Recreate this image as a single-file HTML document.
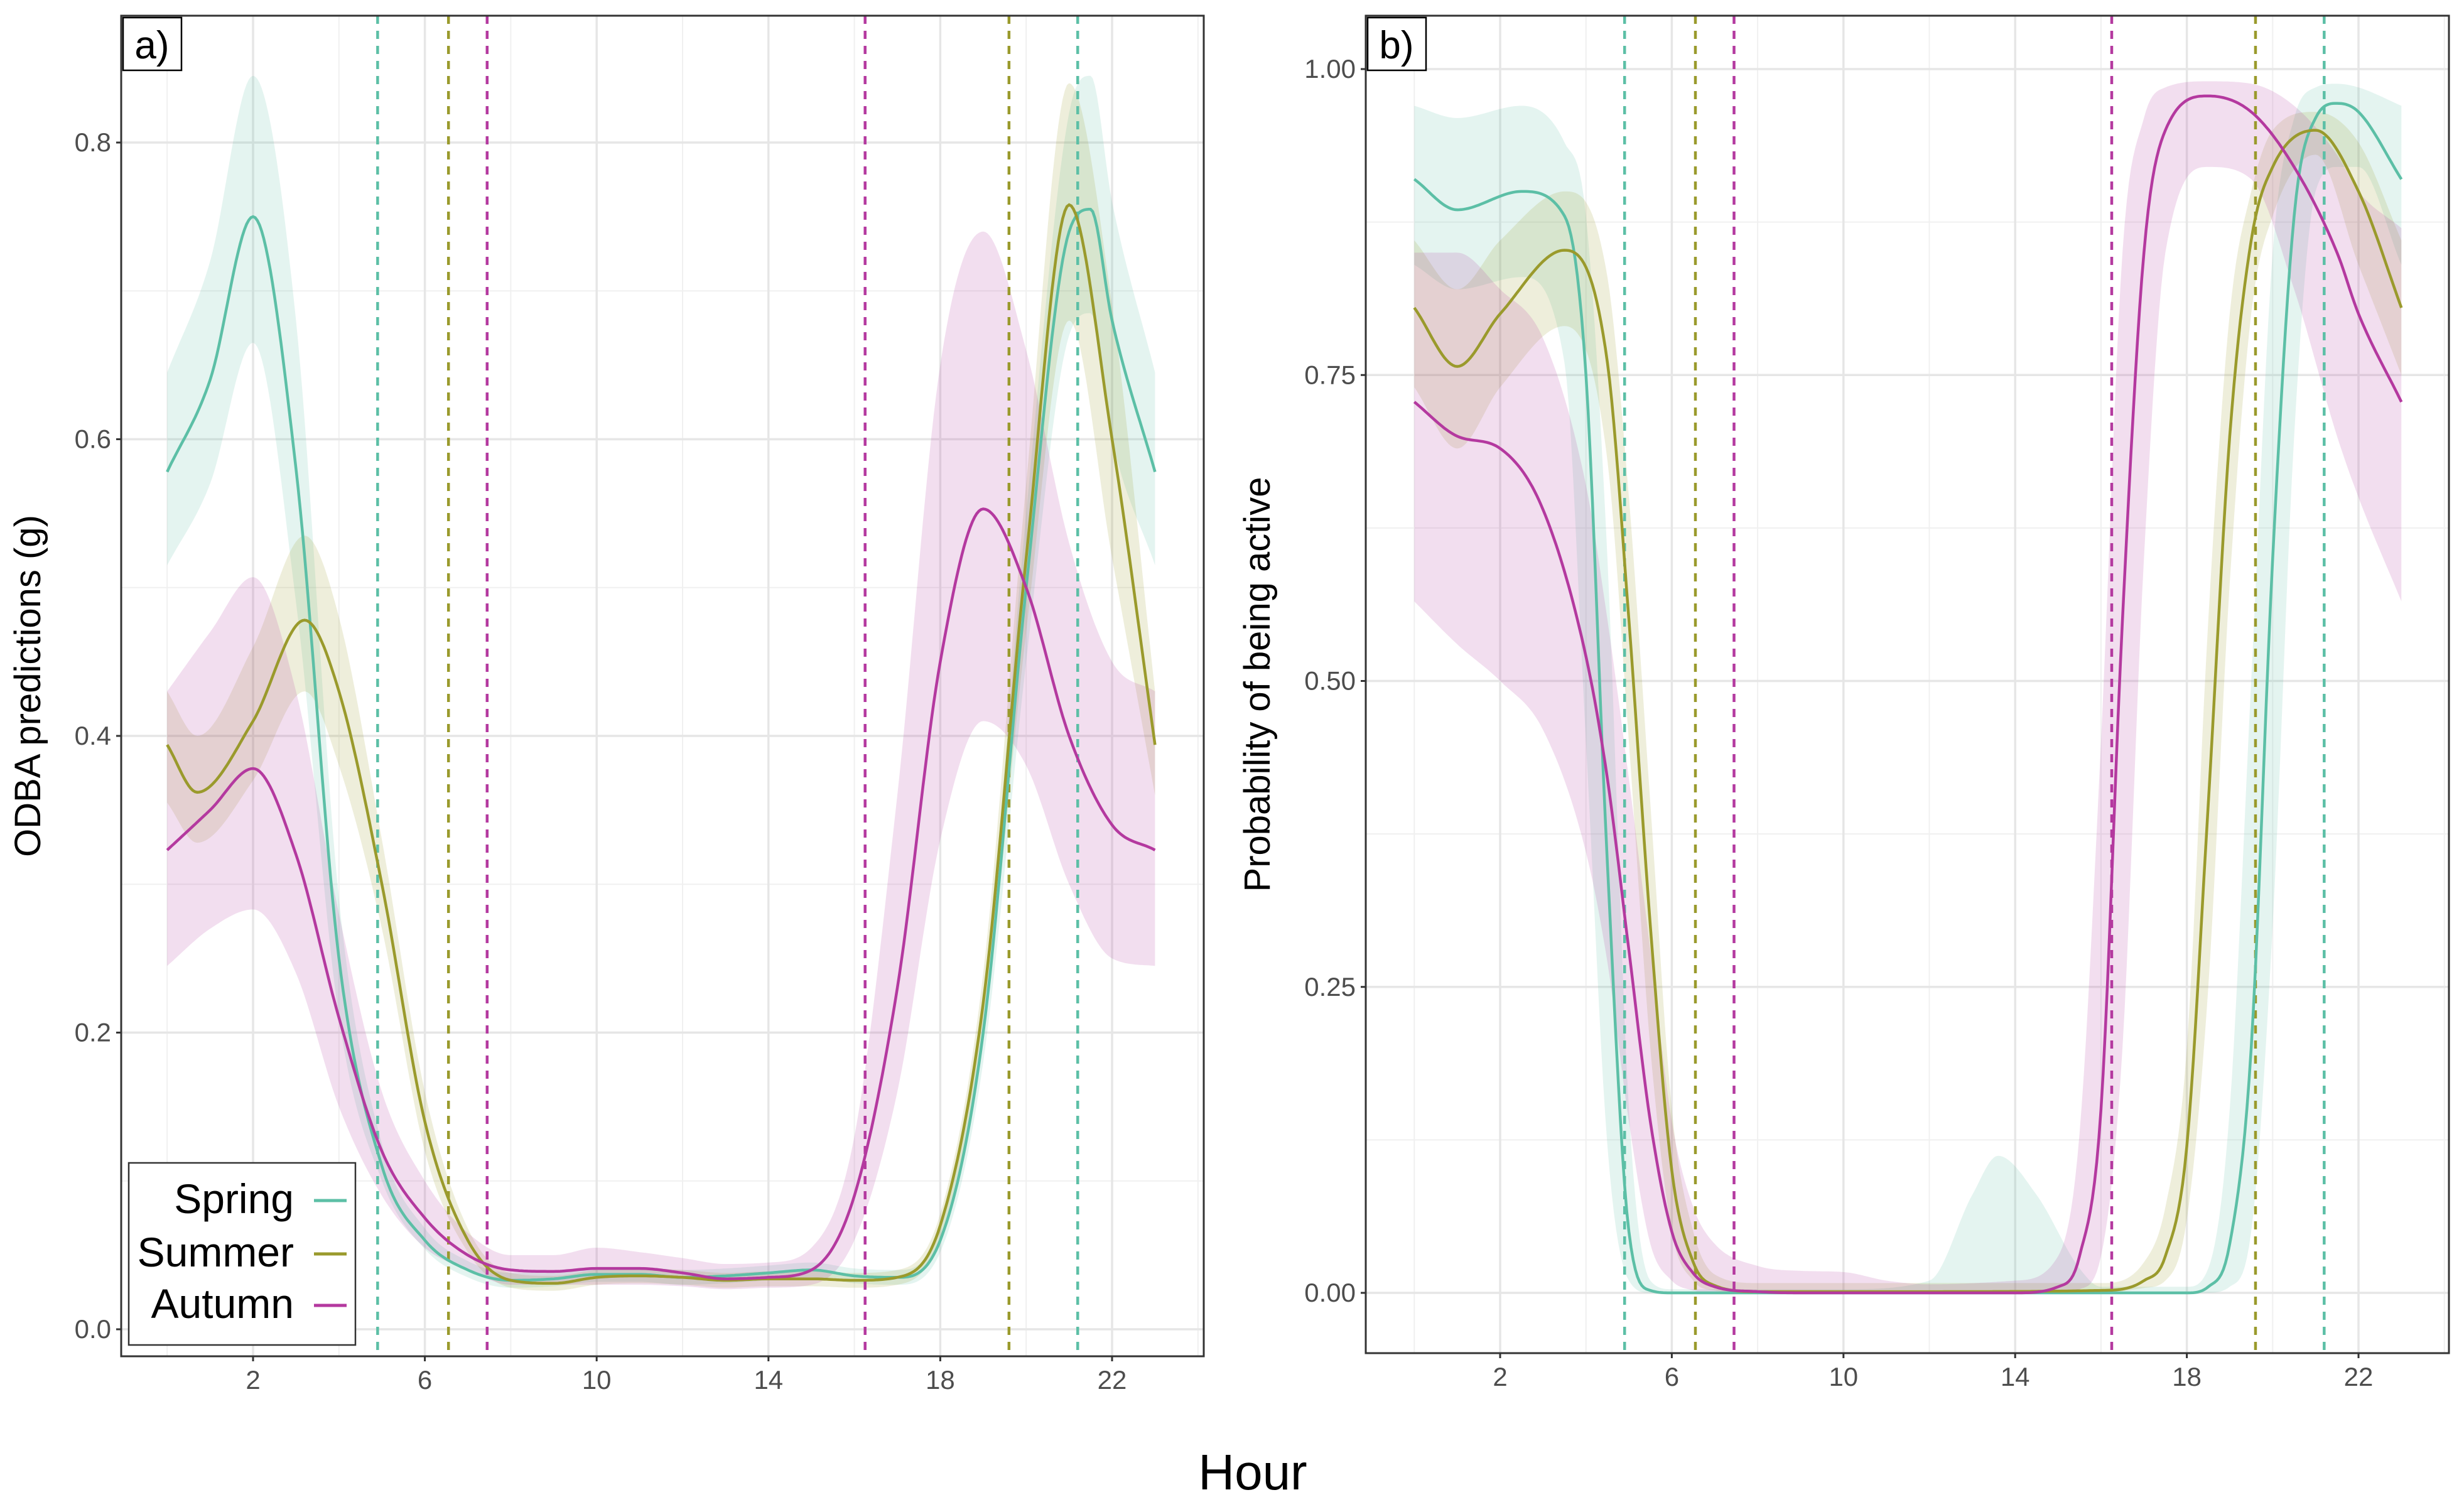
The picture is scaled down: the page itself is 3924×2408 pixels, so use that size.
<!DOCTYPE html>
<html><head><meta charset="utf-8"><style>
html,body{margin:0;padding:0;background:#fff;}
svg{display:block;font-family:"Liberation Sans",Arial,sans-serif;}
</style></head><body>
<svg id="chart" width="3924" height="2408" viewBox="0 0 3924 2408" xmlns="http://www.w3.org/2000/svg">
<rect width="3924" height="2408" fill="#fff"/>
<g id="pa"></g>
<g id="pb"></g>
<text x="1995" y="2372" font-size="80" text-anchor="middle" fill="#000">Hour</text>
</svg>
<script>
// ---- data ----
const seasons = ["Spring","Summer","Autumn"];
const seasonColors = ["#5cbfa6","#9a9a2c","#b4399f"];
const sunriseA = [4.9, 6.55, 7.45];
const sunsetA = [21.2, 19.6, 16.25];
const ticksXLabels = [2,6,10,14,18,22];
const ticksYa = [0,0.2,0.4,0.6,0.8];
const ticksYb = [0,0.25,0.5,0.75,1.0];

// Panel a: ODBA
const aSpringH = [0,1,2,3,4,5,6,7,8,9,10,11,12,13,14,15,16,17,18,19,20,21,21.5,22,23];
const aSpringM = [0.578,0.64,0.75,0.58,0.25,0.11,0.06,0.04,0.033,0.034,0.037,0.037,0.035,0.036,0.038,0.04,0.036,0.035,0.06,0.2,0.5,0.74,0.755,0.68,0.578];
const aSpringU = [0.645,0.72,0.845,0.68,0.29,0.125,0.068,0.046,0.038,0.039,0.042,0.042,0.04,0.041,0.043,0.045,0.041,0.04,0.068,0.22,0.55,0.82,0.845,0.76,0.645];
const aSpringL = [0.515,0.57,0.665,0.49,0.21,0.1,0.054,0.035,0.028,0.029,0.032,0.032,0.03,0.031,0.033,0.035,0.031,0.03,0.052,0.18,0.45,0.67,0.685,0.6,0.515];

const aSummerH = [0,0.7,2,3.2,4,5,6,7,8,9,10,11,12,13,14,15,16,17,18,19,20,21,22,23];
const aSummerM = [0.394,0.362,0.41,0.478,0.43,0.3,0.14,0.06,0.033,0.031,0.035,0.036,0.035,0.033,0.034,0.034,0.033,0.035,0.07,0.22,0.52,0.758,0.6,0.394];
const aSummerU = [0.43,0.4,0.46,0.535,0.48,0.33,0.16,0.068,0.038,0.036,0.04,0.041,0.04,0.038,0.039,0.039,0.038,0.04,0.078,0.24,0.57,0.84,0.69,0.43];
const aSummerL = [0.355,0.328,0.37,0.43,0.38,0.27,0.12,0.052,0.028,0.026,0.03,0.031,0.03,0.028,0.029,0.029,0.028,0.03,0.062,0.2,0.47,0.68,0.52,0.36];

const aAutumnH = [0,1,2,3,4,5,6,7,8,9,10,11,12,13,14,15,16,17,18,19,20,21,22,23];
const aAutumnM = [0.323,0.35,0.378,0.32,0.21,0.12,0.075,0.05,0.04,0.039,0.041,0.041,0.038,0.034,0.035,0.04,0.09,0.23,0.45,0.553,0.5,0.4,0.34,0.323];
const aAutumnU = [0.43,0.47,0.507,0.43,0.28,0.16,0.1,0.065,0.05,0.05,0.055,0.052,0.048,0.044,0.045,0.055,0.13,0.36,0.65,0.74,0.66,0.53,0.45,0.43];
const aAutumnL = [0.245,0.27,0.283,0.24,0.15,0.09,0.055,0.04,0.03,0.03,0.03,0.03,0.029,0.027,0.028,0.03,0.06,0.16,0.33,0.41,0.38,0.3,0.25,0.245];

// Panel b: probability active
const bSpringH = [0,1,2.5,3.5,4,4.5,5,5.5,6,8,10,12,13,13.6,14.5,15.5,16,18,18.5,19,19.5,20,20.5,21,21.5,22,23];
const bSpringM = [0.91,0.885,0.9,0.88,0.75,0.35,0.05,0.002,0,0,0,0,0,0,0,0,0,0,0.005,0.04,0.2,0.6,0.88,0.96,0.972,0.965,0.91];
const bSpringU = [0.97,0.96,0.97,0.94,0.88,0.6,0.15,0.01,0.003,0.003,0.003,0.01,0.08,0.112,0.08,0.02,0.005,0.005,0.02,0.15,0.5,0.85,0.96,0.985,0.988,0.985,0.97];
const bSpringL = [0.84,0.82,0.83,0.76,0.45,0.12,0.01,0,0,0,0,0,0,0,0,0,0,0,0,0.005,0.05,0.3,0.7,0.9,0.92,0.92,0.84];

const bSummerH = [0,1,2,3.5,4.5,5,5.5,6,6.5,7,8,12,16,17,17.5,18,18.5,19,19.5,20,21,22,23];
const bSummerM = [0.805,0.757,0.8,0.852,0.76,0.55,0.3,0.1,0.025,0.006,0.001,0.001,0.002,0.01,0.03,0.12,0.4,0.7,0.86,0.92,0.95,0.9,0.805];
const bSummerU = [0.86,0.82,0.86,0.9,0.83,0.65,0.4,0.15,0.05,0.015,0.008,0.008,0.008,0.025,0.07,0.2,0.55,0.8,0.9,0.95,0.965,0.94,0.86];
const bSummerL = [0.74,0.69,0.74,0.79,0.68,0.45,0.2,0.05,0.01,0.002,0,0,0,0.004,0.01,0.06,0.25,0.58,0.8,0.88,0.93,0.84,0.75];

const bAutumnH = [0,1,2,3,4,4.5,5,5.5,6,6.5,7,8,9,10,11,12,14,15,15.5,16,16.5,17,17.5,18.5,19.5,20.5,21.5,22,23];
const bAutumnM = [0.728,0.7,0.69,0.64,0.52,0.42,0.28,0.14,0.05,0.016,0.005,0.001,0,0,0,0,0,0.005,0.03,0.15,0.55,0.85,0.95,0.978,0.965,0.92,0.85,0.8,0.728];
const bAutumnU = [0.85,0.85,0.82,0.78,0.66,0.55,0.42,0.28,0.14,0.07,0.04,0.022,0.018,0.017,0.01,0.007,0.01,0.03,0.13,0.45,0.85,0.96,0.985,0.99,0.988,0.97,0.93,0.9,0.87];
const bAutumnL = [0.565,0.53,0.5,0.46,0.36,0.27,0.14,0.04,0.01,0.002,0,0,0,0,0,0,0,0,0.003,0.03,0.2,0.6,0.85,0.92,0.91,0.82,0.7,0.65,0.565];

// ---- helpers ----
const NS="http://www.w3.org/2000/svg";
function mk(parent,tag,attrs){const e=document.createElementNS(NS,tag);for(const k in attrs)e.setAttribute(k,attrs[k]);parent.appendChild(e);return e;}
function monotone(xs,ys){const n=xs.length,d=[],m=[];for(let i=0;i<n-1;i++)d.push((ys[i+1]-ys[i])/(xs[i+1]-xs[i]));
 m[0]=d[0];m[n-1]=d[n-2];for(let i=1;i<n-1;i++){m[i]=(d[i-1]*d[i]<=0)?0:(d[i-1]+d[i])/2;}
 for(let i=0;i<n-1;i++){if(d[i]===0){m[i]=0;m[i+1]=0;continue;}const a=m[i]/d[i],b=m[i+1]/d[i],s=a*a+b*b;if(s>9){const t=3/Math.sqrt(s);m[i]=t*a*d[i];m[i+1]=t*b*d[i];}}
 return function(x){let i=0;while(i<n-2&&x>xs[i+1])i++;const h=xs[i+1]-xs[i],t=(x-xs[i])/h,t2=t*t,t3=t2*t;
  return (2*t3-3*t2+1)*ys[i]+(t3-2*t2+t)*h*m[i]+(-2*t3+3*t2)*ys[i+1]+(t3-t2)*h*m[i+1];};}
function samples(xs,ys,sx,sy){const f=monotone(xs,ys),pts=[];for(let k=0;k<=460;k++){const x=23*k/460;pts.push([sx(x),sy(f(x))]);}return pts;}

function panel(g,cfg){
 const {L,R,T,B,sx,sy,yt,fmt,series,label,ytitle,ytx}=cfg;
 mk(g,'rect',{x:L,y:T,width:R-L,height:B-T,fill:'#fff'});
 for(let i=0;i<yt.length-1;i++){const v=(yt[i]+yt[i+1])/2;const l=mk(g,'line',{x1:L,x2:R,y1:sy(v),y2:sy(v),stroke:'#f0f0f0','stroke-width':2});}
 for(const h of [0,4,8,12,16,20,24]){const l=mk(g,'line',{x1:sx(h),x2:sx(h),y1:T,y2:B,stroke:'#f0f0f0','stroke-width':2});}
 for(const v of yt){const l=mk(g,'line',{x1:L,x2:R,y1:sy(v),y2:sy(v),stroke:'#e6e6e6','stroke-width':3.5});}
 for(const h of ticksXLabels){const l=mk(g,'line',{x1:sx(h),x2:sx(h),y1:T,y2:B,stroke:'#e6e6e6','stroke-width':3.5});}
 series.forEach((s,i)=>{const up=samples(s.h,s.u,sx,sy),lo=samples(s.h,s.l,sx,sy).reverse();
  const p=mk(g,'path',{d:'M'+up.concat(lo).map(q=>q[0].toFixed(1)+','+q[1].toFixed(1)).join('L')+'Z',fill:seasonColors[i],'fill-opacity':0.17});
  });
 seasons.forEach((s,i)=>{[sunriseA[i],sunsetA[i]].forEach((h,j)=>{const l=mk(g,'line',{x1:sx(h),x2:sx(h),y1:T,y2:B,stroke:seasonColors[i],'stroke-width':4.5,'stroke-dasharray':'13,11'});
  });});
 series.forEach((s,i)=>{const pts=samples(s.h,s.m,sx,sy);const p=mk(g,'path',{d:'M'+pts.map(q=>q[0].toFixed(1)+','+q[1].toFixed(1)).join('L'),fill:'none',stroke:seasonColors[i],'stroke-width':4.5});
  });
 const fr=mk(g,'rect',{x:L,y:T,width:R-L,height:B-T,fill:'none',stroke:'#333','stroke-width':3});
 for(const v of yt){mk(g,'line',{x1:L-8,x2:L,y1:sy(v),y2:sy(v),stroke:'#333','stroke-width':3});
  const t=mk(g,'text',{x:L-16,y:sy(v)+14,'font-size':42,'text-anchor':'end',fill:'#4d4d4d'});t.textContent=fmt(v);}
 for(const h of ticksXLabels){mk(g,'line',{x1:sx(h),x2:sx(h),y1:B,y2:B+8,stroke:'#333','stroke-width':3});
  const t=mk(g,'text',{x:sx(h),y:B+52,'font-size':42,'text-anchor':'middle',fill:'#4d4d4d'});t.textContent=h;}
 const tb=mk(g,'rect',{x:L+3,y:T+3,width:93,height:84,fill:'#fff',stroke:'#000','stroke-width':2.5});
 const tl=mk(g,'text',{x:L+49,y:T+68,'font-size':62,'text-anchor':'middle',fill:'#000'});tl.textContent=label;
 const yy=(T+B)/2;const yt2=mk(g,'text',{x:ytx,y:yy,'font-size':58,'text-anchor':'middle',fill:'#000',transform:`rotate(-90 ${ytx} ${yy})`});yt2.textContent=ytitle;
}

const aL=193,aR=1917,aT=25,aB=2160;
const sxa=h=>403+(h-2)*68.4, sya=v=>2117-v*2362.5;
panel(document.getElementById('pa'),{L:aL,R:aR,T:aT,B:aB,sx:sxa,sy:sya,yt:ticksYa,fmt:v=>v.toFixed(1),label:'a)',ytitle:'ODBA predictions (g)',ytx:64,
 series:[{h:aSpringH,m:aSpringM,u:aSpringU,l:aSpringL},{h:aSummerH,m:aSummerM,u:aSummerU,l:aSummerL},{h:aAutumnH,m:aAutumnM,u:aAutumnU,l:aAutumnL}]});
const bL=2175,bR=3900,bT=25,bB=2155;
const sxb=h=>2389+(h-2)*68.35, syb=v=>2059-v*1949;
panel(document.getElementById('pb'),{L:bL,R:bR,T:bT,B:bB,sx:sxb,sy:syb,yt:ticksYb,fmt:v=>v.toFixed(2),label:'b)',ytitle:'Probability of being active',ytx:2022,
 series:[{h:bSpringH,m:bSpringM,u:bSpringU,l:bSpringL},{h:bSummerH,m:bSummerM,u:bSummerU,l:bSummerL},{h:bAutumnH,m:bAutumnM,u:bAutumnU,l:bAutumnL}]});

const pa=document.getElementById('pa');
const lg=mk(pa,'g',{});
mk(lg,'rect',{x:205,y:1852,width:361,height:290,fill:'#fff',stroke:'#333','stroke-width':2.5});
const ly=[1910,1995,2077];
seasons.forEach((s,i)=>{const t=mk(lg,'text',{x:468,y:ly[i]+22,'font-size':66,'text-anchor':'end',fill:'#000'});t.textContent=s;
 
 const k=mk(lg,'line',{x1:500,x2:552,y1:ly[i]+2,y2:ly[i]+2,stroke:seasonColors[i],'stroke-width':5});
 });
</script>
</body></html>
